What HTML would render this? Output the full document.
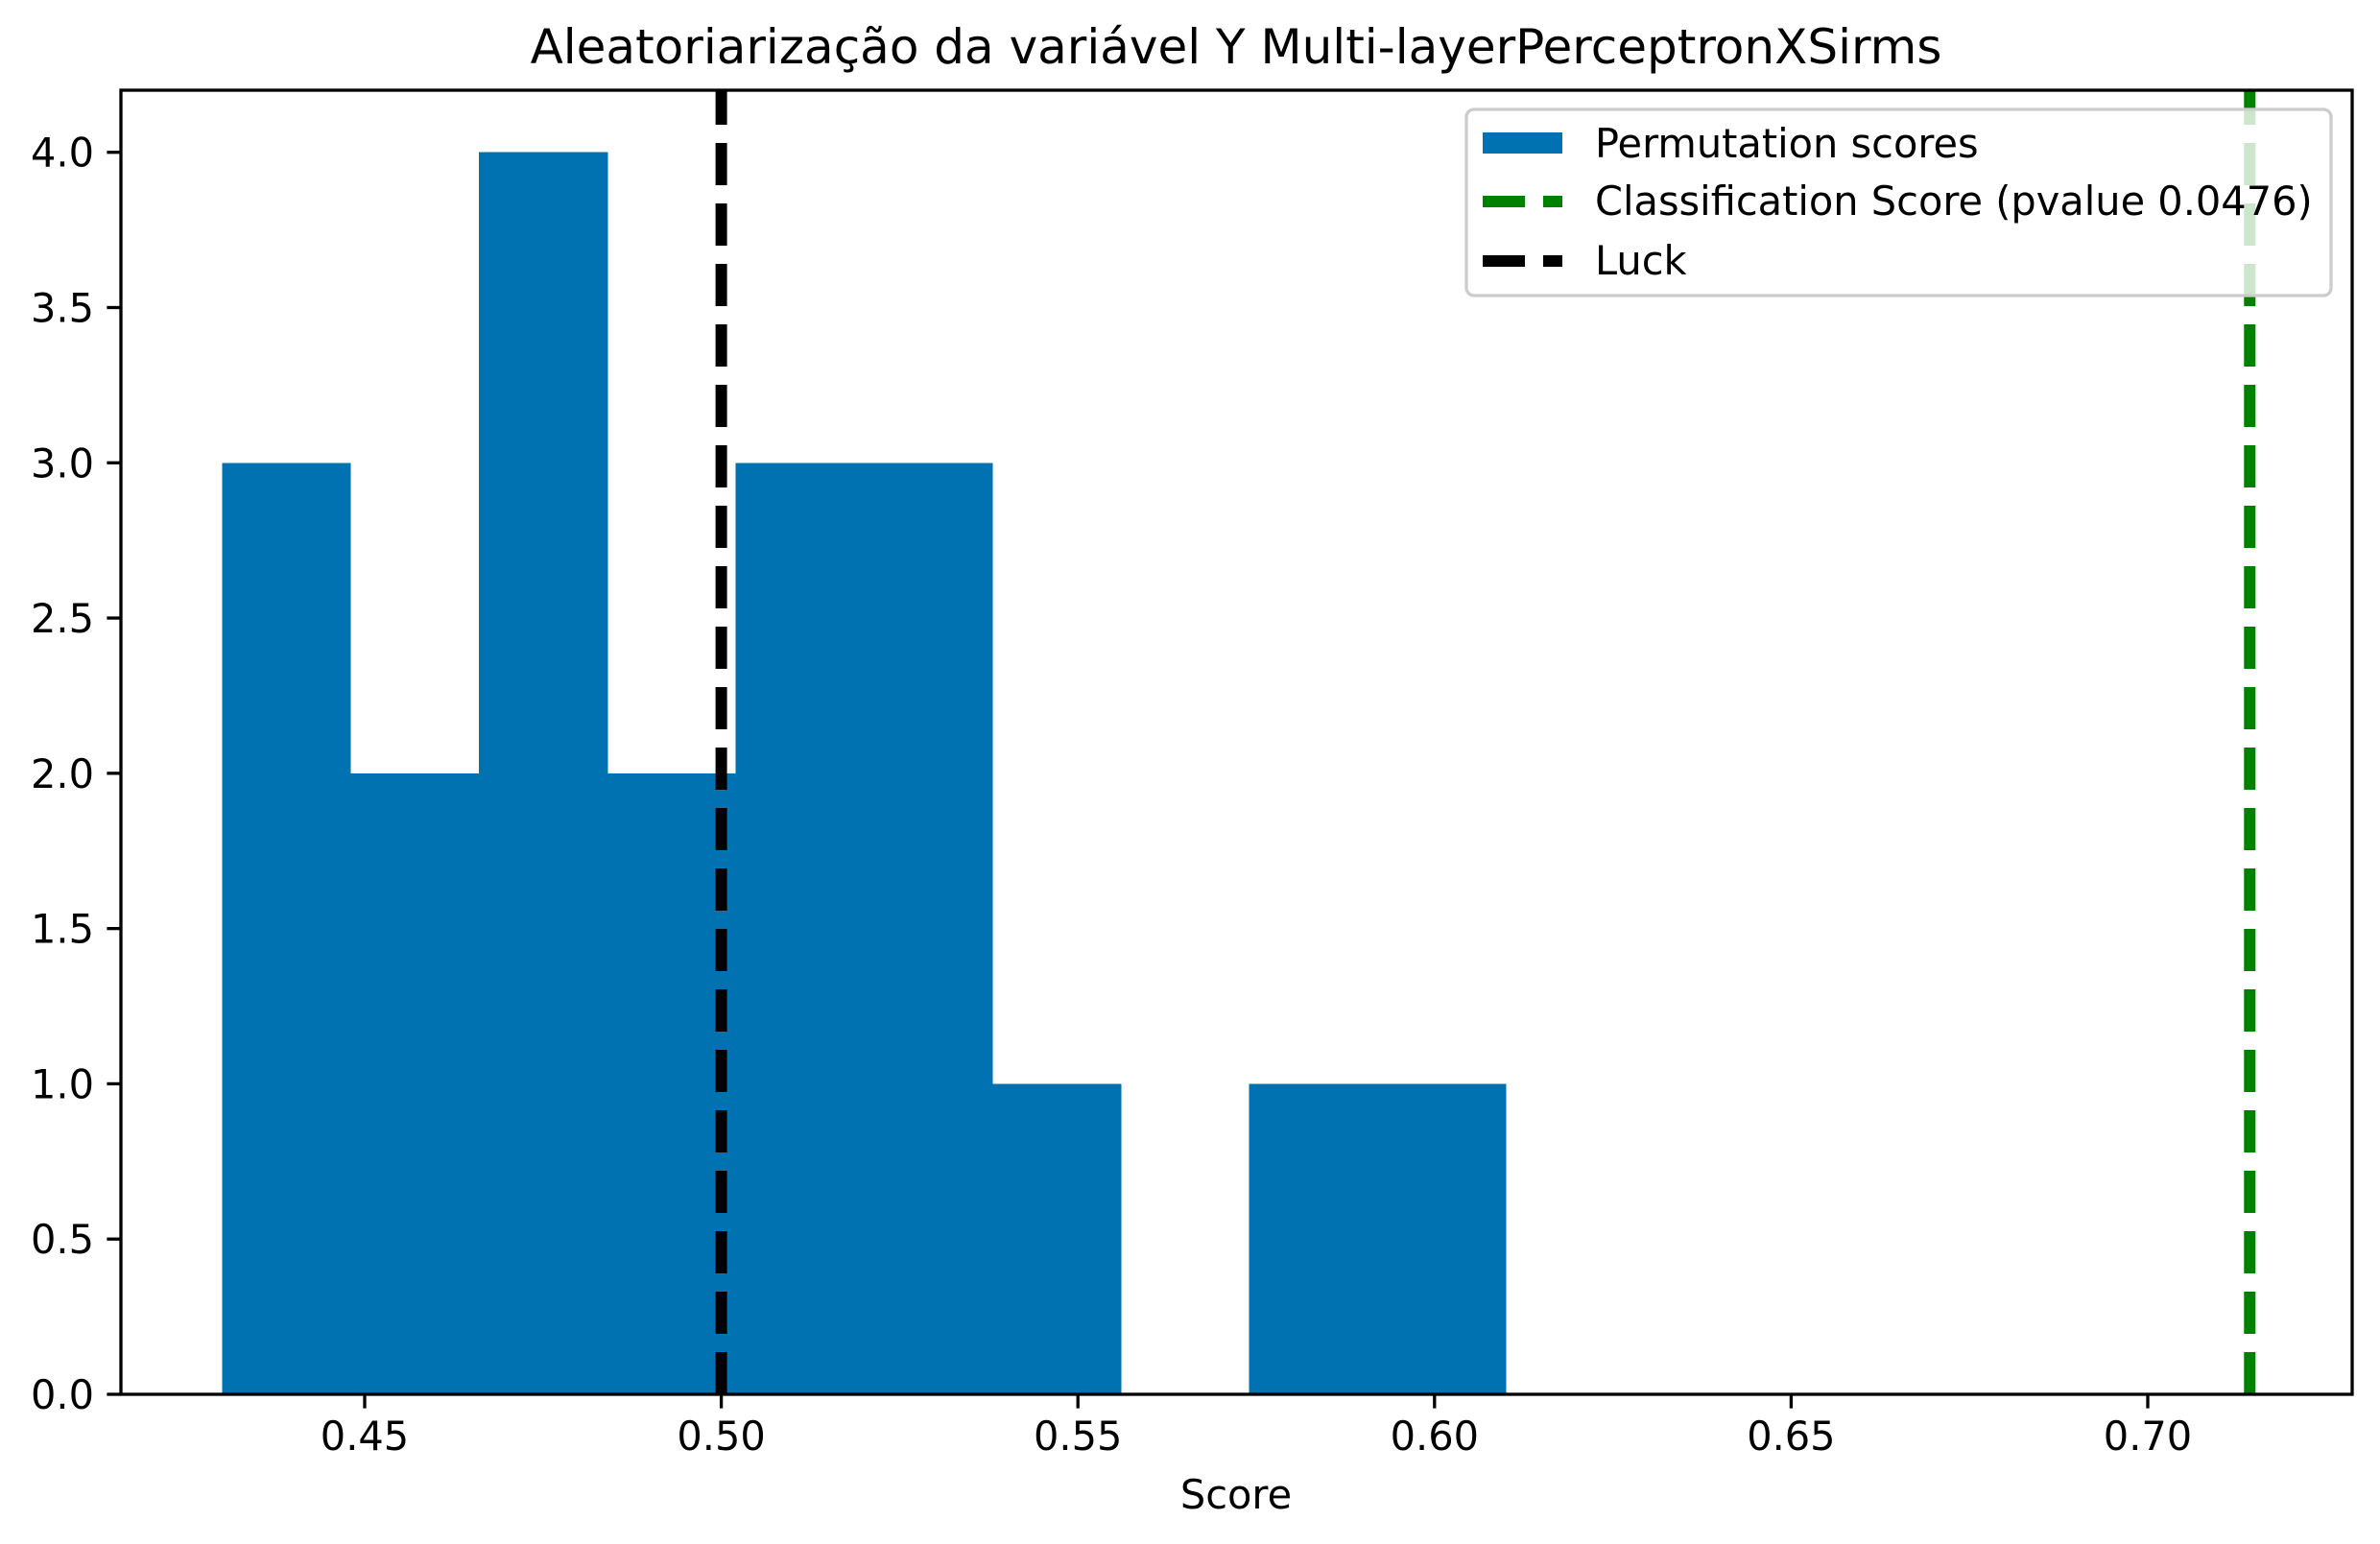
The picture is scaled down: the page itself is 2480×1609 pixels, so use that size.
<!DOCTYPE html>
<html><head><meta charset="utf-8">
<style>
html,body{margin:0;padding:0;background:#fff;}
svg{display:block;font-family:"DejaVu Sans","Liberation Sans",sans-serif;}
</style></head>
<body>
<svg id="chart" width="2480" height="1609" viewBox="0 0 2480 1609" xmlns="http://www.w3.org/2000/svg">
<rect width="2480" height="1609" fill="#fff"/>
<text x="1288" y="66" font-size="50" text-anchor="middle">Aleatoriarização da variável Y Multi-layerPerceptronXSirms</text>
<g id="bars" shape-rendering="crispEdges"></g>
<g id="vlines"></g>
<g id="axes"></g>
<text x="1288" y="1572" font-size="41.5" text-anchor="middle">Score</text>
<g>
<rect x="1528" y="114" width="901" height="194" rx="8" fill="#fff" fill-opacity="0.8" stroke="#cccccc" stroke-width="3.3"/>
<rect x="1545" y="138" width="83" height="22" fill="#0072b2"/>
<text x="1662" y="164" font-size="41.5">Permutation scores</text>
<line x1="1545" y1="210" x2="1628" y2="210" stroke="#008000" stroke-width="12" stroke-dasharray="44 19"/>
<text x="1662" y="224" font-size="41.5">Classification Score (pvalue 0.0476)</text>
<line x1="1545" y1="272" x2="1628" y2="272" stroke="#000" stroke-width="12" stroke-dasharray="44 19"/>
<text x="1662" y="286" font-size="41.5">Luck</text>
</g>
</svg>
<script>
const binEdges = [0.4300,0.4480,0.4660,0.4840,0.5020,0.5200,0.5380,0.5560,0.5740,0.5920,0.6100];
const binCounts = [3,2,4,2,3,3,1,0,1,1];
const xTicks = [0.45,0.50,0.55,0.60,0.65,0.70];
const xTickLabels = ["0.45","0.50","0.55","0.60","0.65","0.70"];
const yTicks = [0,0.5,1,1.5,2,2.5,3,3.5,4];
const yTickLabels = ["0.0","0.5","1.0","1.5","2.0","2.5","3.0","3.5","4.0"];
const classificationScore = [0.7143];
const luckScore = [0.5];

const L=126,R=2451,T=94,B=1453;
const xMin=0.45-(380-126)/7432, xMax=0.45+(2451-380)/7432;
const yMin=0,yMax=4.2;
const xs=v=>L+(v-xMin)/(xMax-xMin)*(R-L);
const ys=v=>B-(v-yMin)/(yMax-yMin)*(B-T);
const NS="http://www.w3.org/2000/svg";
function mk(tag,attrs,parent){const e=document.createElementNS(NS,tag);for(const k in attrs)e.setAttribute(k,attrs[k]);parent.appendChild(e);return e;}

const bars=document.getElementById('bars');
binCounts.forEach((c,i)=>{
  if(c<=0)return;
  const x0=xs(binEdges[i]),x1=xs(binEdges[i+1]);
  const r=mk('rect',{x:x0,y:ys(c),width:x1-x0+0.6,height:ys(0)-ys(c),fill:'#0072b2'},bars);
  
  
});

const vl=document.getElementById('vlines');
luckScore.forEach(v=>{
  const l=mk('line',{x1:xs(v),x2:xs(v),y1:B,y2:T,stroke:'#000','stroke-width':12,'stroke-dasharray':'44 19'},vl);
  
  
});
classificationScore.forEach(v=>{
  const l=mk('line',{x1:xs(v),x2:xs(v),y1:B,y2:T,stroke:'#008000','stroke-width':12,'stroke-dasharray':'44 19'},vl);
  
  
});

const ax=document.getElementById('axes');
const frame=mk('rect',{x:L,y:T,width:R-L,height:B-T,fill:'none',stroke:'#000','stroke-width':3.3},ax);


xTicks.forEach((v,i)=>{
  const x=xs(v);
  const t=mk('line',{x1:x,x2:x,y1:B,y2:B+14.6,stroke:'#000','stroke-width':3.3},ax);
  
  
  const tx=mk('text',{x:x,y:B+58,'font-size':41.5,'text-anchor':'middle'},ax);
  tx.textContent=xTickLabels[i];
  
  
});
yTicks.forEach((v,i)=>{
  const y=ys(v);
  const t=mk('line',{x1:L-14.6,x2:L,y1:y,y2:y,stroke:'#000','stroke-width':3.3},ax);
  
  
  const tx=mk('text',{x:L-28,y:y+15,'font-size':41.5,'text-anchor':'end'},ax);
  tx.textContent=yTickLabels[i];
  
  
});
</script>
</body></html>
